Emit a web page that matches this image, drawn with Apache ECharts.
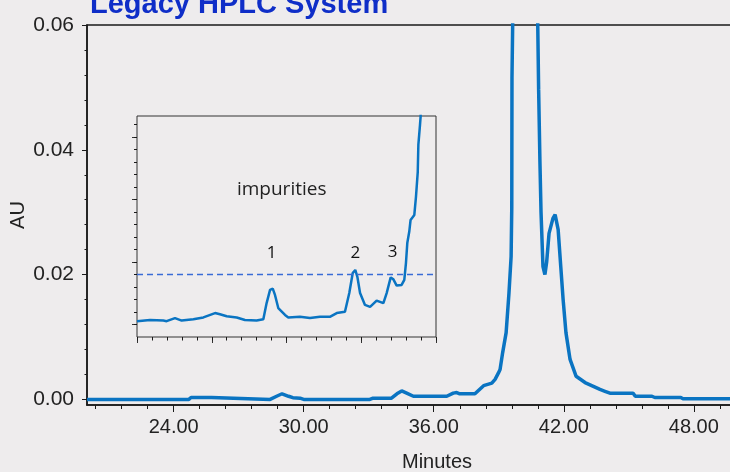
<!DOCTYPE html>
<html>
<head>
<meta charset="utf-8">
<title>Legacy HPLC System</title>
<script src="https://cdn.jsdelivr.net/npm/echarts@6/dist/echarts.min.js"></script>
<style>
  html, body { margin: 0; padding: 0; background: #eeeced; }
  #chart { width: 730px; height: 472px; }
</style>
</head>
<body>
<div id="chart"></div>
<script>
// full chromatogram, [minutes, AU]
var mainTrace = [
  [20, 0], [24.7, 0], [24.8, 0.0003], [25.75, 0.0003], [25.83, 0], [28.45, 0],
  [28.75, 0.0005], [29.0, 0.0009], [29.3, 0.0005], [29.5, 0.00027], [29.83, 0.0002], [30, 0],
  [33.05, 0], [33.2, 0.0002], [34.05, 0.0002], [34.3, 0.0009], [34.52, 0.00135], [34.75, 0.001],
  [35.06, 0.0005], [36.6, 0.0005], [36.9, 0.001], [37.06, 0.0011], [37.2, 0.0009], [37.9, 0.0009],
  [38.3, 0.0022], [38.68, 0.0026], [38.83, 0.0032], [38.98, 0.0042], [39.06, 0.0048],
  [39.18, 0.0075], [39.34, 0.0107], [39.47, 0.017], [39.57, 0.0229], [39.6, 0.0307],
  [39.61, 0.0515], [39.66, 0.065], [40.2, 0.2], [40.74, 0.075], [40.84, 0.0496],
  [40.9, 0.038], [40.95, 0.030], [41.04, 0.0213], [41.13, 0.02], [41.21, 0.022],
  [41.32, 0.0266], [41.5, 0.029], [41.6, 0.0296], [41.74, 0.0272], [41.86, 0.0213],
  [41.97, 0.016], [42.1, 0.0107], [42.29, 0.0064], [42.57, 0.0037], [42.98, 0.0027],
  [43.67, 0.0016], [43.9, 0.0013], [44.13, 0.001], [45.2, 0.001], [45.3, 0.0005],
  [46.07, 0.0005], [46.2, 0.0003], [47.4, 0.0003], [47.5, 0.0001], [52.3, 0.0001]
];

// zoomed view of the impurity region, [minutes, AU]
var insetTrace = [
  [20.0, 0.00005], [20.87, 0.00007], [21.76, 0.00006], [21.98, 0.00005], [22.54, 0.0001],
  [22.99, 0.00006], [23.77, 0.00008], [24.44, 0.00011], [25.22, 0.00018], [25.55, 0.00016],
  [26.0, 0.00013], [26.67, 0.00011], [27.22, 0.00007], [28.0, 0.00006], [28.45, 0.00008],
  [28.67, 0.00034], [28.9, 0.00055], [29.08, 0.00057], [29.23, 0.00047], [29.45, 0.00026],
  [29.9, 0.00015], [30.12, 0.00011], [30.9, 0.00012], [31.57, 0.0001], [32.24, 0.00012],
  [32.9, 0.00012], [33.36, 0.00018], [33.91, 0.0002], [34.2, 0.0005], [34.43, 0.00082],
  [34.6, 0.00087], [34.74, 0.00076], [34.92, 0.0005], [35.25, 0.00031], [35.59, 0.00028],
  [36.03, 0.00038], [36.48, 0.00034], [36.7, 0.0005], [36.97, 0.00075], [37.15, 0.00072],
  [37.37, 0.00062], [37.7, 0.00063], [37.88, 0.00071], [37.99, 0.00098], [38.08, 0.0013],
  [38.21, 0.00148], [38.3, 0.00167], [38.55, 0.00175], [38.66, 0.00204], [38.78, 0.00244],
  [38.82, 0.00287], [38.93, 0.00319], [38.97, 0.00332], [39.05, 0.0045]
];

var xTickLabels = ['24.00', '30.00', '36.00', '42.00', '48.00'];
var yTickLabels = ['0.00', '0.02', '0.04', '0.06'];
var insetXTicks = [20, 25, 30, 35, 40];
var insetYTicks = [0, 0.001, 0.002, 0.003];
var threshold = 0.0008;
var peakLabels = [['1', 29.0, 0.00114], ['2', 34.6, 0.00114], ['3', 37.1, 0.00116]];
var insetCaption = ['impurities', 29.68, 0.00216];

function steps(from, to, step) {
  var out = [];
  for (var v = from; v <= to + 1e-9; v += step) out.push(+v.toFixed(6));
  return out;
}

var font = "'Liberation Sans', Arial, sans-serif";
var lineColor = '#0a74c2';
var axisColor = '#1a1a1a';

var chart = echarts.init(document.getElementById('chart'));

function hiddenTicksAxis(gridIndex, min, max, values, len, pos) {
  return {
    type: 'value', gridIndex: gridIndex, min: min, max: max, position: pos,
    axisLine: { show: false, onZero: false }, splitLine: { show: false },
    axisLabel: { show: false },
    axisTick: { show: true, length: len, customValues: values, lineStyle: { color: axisColor, width: 1 } }
  };
}

chart.setOption({
  backgroundColor: '#eeeced',
  animation: false,
  title: {
    text: 'Legacy HPLC System',
    left: 85, top: -15,
    textStyle: { color: '#0f2ec8', fontSize: 29, fontWeight: 'bold', fontFamily: font }
  },
  grid: [
    { left: 87, top: 25, right: -57, bottom: 67, outerBoundsMode: 'none', containLabel: false,
      show: true, borderColor: axisColor, borderWidth: 1.5, backgroundColor: 'transparent' },
    { left: 137, top: 116, width: 299, height: 221, outerBoundsMode: 'none', containLabel: false,
      show: true, borderColor: '#333', borderWidth: 1, backgroundColor: 'transparent' }
  ],
  xAxis: [
    {
      type: 'value', gridIndex: 0, min: 20, max: 52.3, position: 'bottom',
      name: 'Minutes', nameLocation: 'middle', nameGap: 47, nameMoveOverlap: false,
      nameTextStyle: { color: '#222', fontSize: 20, fontFamily: font },
      axisLine: { show: true, onZero: false, lineStyle: { color: axisColor, width: 1.5 } },
      splitLine: { show: false },
      axisTick: { show: true, length: 7, customValues: xTickLabels.map(parseFloat), lineStyle: { color: axisColor, width: 1 } },
      axisLabel: {
        customValues: xTickLabels.map(parseFloat), margin: 12,
        color: '#222', fontSize: 20, fontFamily: font,
        formatter: function (v) { return v.toFixed(2); }
      }
    },
    hiddenTicksAxis(0, 20, 52.3, steps(20.4, 52.3, 1.2), 4, 'bottom'),
    {
      type: 'value', gridIndex: 1, min: 20, max: 40, position: 'bottom',
      axisLine: { show: false, onZero: false }, splitLine: { show: false }, axisLabel: { show: false },
      axisTick: { show: true, length: 6, customValues: insetXTicks, lineStyle: { color: '#333', width: 1 } }
    },
    hiddenTicksAxis(1, 20, 40, steps(20, 40, 1), 3.5, 'bottom')
  ],
  yAxis: [
    {
      type: 'value', gridIndex: 0, min: -0.0009, max: 0.06, position: 'left',
      name: 'AU', nameLocation: 'middle', nameGap: 59, nameMoveOverlap: false,
      nameTextStyle: { color: '#222', fontSize: 20, fontFamily: font },
      axisLine: { show: true, onZero: false, lineStyle: { color: axisColor, width: 1.5 } },
      splitLine: { show: false },
      axisTick: { show: true, length: 5, customValues: yTickLabels.map(parseFloat), lineStyle: { color: axisColor, width: 1 } },
      axisLabel: {
        customValues: yTickLabels.map(parseFloat), margin: 13,
        color: '#222', fontSize: 21, fontFamily: font,
        formatter: function (v) { return v.toFixed(2); }
      }
    },
    hiddenTicksAxis(0, -0.0009, 0.06, steps(0, 0.06, 0.004), 2.5, 'left'),
    {
      type: 'value', gridIndex: 1, min: -0.000203, max: 0.003333, position: 'left',
      axisLine: { show: false, onZero: false }, splitLine: { show: false }, axisLabel: { show: false },
      axisTick: { show: true, length: 5, customValues: insetYTicks, lineStyle: { color: '#333', width: 1 } }
    },
    hiddenTicksAxis(1, -0.000203, 0.003333, steps(0, 0.0032, 0.0002), 3, 'left')
  ],
  series: [
    {
      type: 'line', xAxisIndex: 0, yAxisIndex: 0, data: mainTrace,
      showSymbol: false, clip: true,
      lineStyle: { color: lineColor, width: 3.5 }
    },
    {
      type: 'line', xAxisIndex: 2, yAxisIndex: 2, data: insetTrace,
      showSymbol: false, clip: true,
      lineStyle: { color: lineColor, width: 2.5 },
      markLine: {
        silent: true, symbol: 'none', precision: 6, label: { show: false },
        lineStyle: { color: '#3a6bd6', type: [6, 4], width: 1.3 },
        data: [{ yAxis: threshold }]
      },
      markPoint: {
        silent: true, symbol: 'circle', symbolSize: 0,
        label: { show: true, position: 'inside', color: '#111', fontSize: 17, fontFamily: "'Open Sans', sans-serif",
          formatter: function (p) { return p.name; } },
        data: peakLabels.map(function (d) { return { name: d[0], coord: [d[1], d[2]] }; }).concat([
          { name: insetCaption[0], coord: [insetCaption[1], insetCaption[2]], label: { fontSize: 19, color: '#222' } }
        ])
      }
    }
  ]
});
</script>
</body>
</html>
